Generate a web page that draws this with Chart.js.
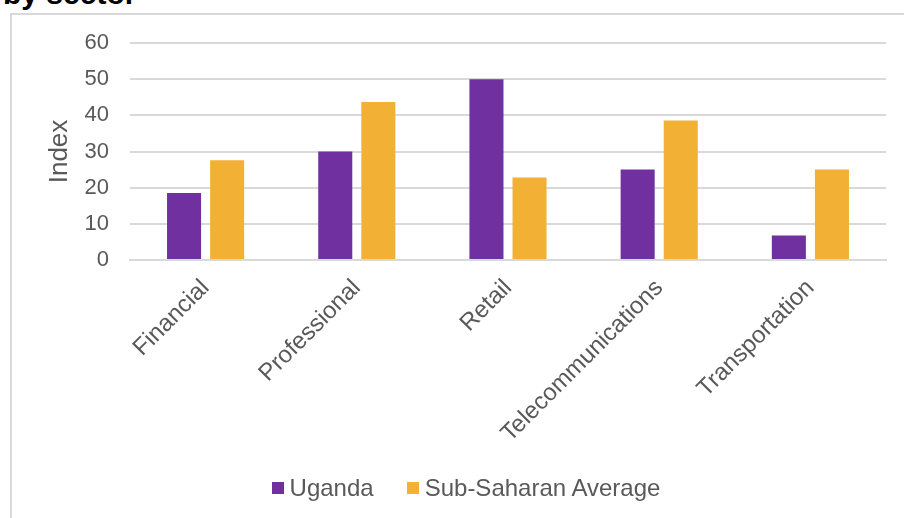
<!DOCTYPE html>
<html>
<head>
<meta charset="utf-8">
<script src="https://cdn.jsdelivr.net/npm/chart.js@4"></script>
<style>
  html,body{margin:0;padding:0;background:#fff;}
  body{width:904px;height:518px;overflow:hidden;position:relative;font-family:"Liberation Sans",Arial,sans-serif;}
  .title{position:absolute;left:3px;top:-23px;font-size:30px;line-height:34px;font-weight:bold;color:#000;white-space:nowrap;}
  .frame{position:absolute;left:10px;top:13px;width:920px;height:540px;border-left:2px solid #d9d9d9;border-top:2px solid #d9d9d9;}
  #wrap{position:absolute;left:0;top:0;width:904px;height:518px;}
  #legend{position:absolute;left:28px;right:0;top:474px;display:flex;justify-content:center;gap:33px;
          font-size:24px;line-height:28px;color:#595959;}
  #legend span.item{display:flex;align-items:center;}
  #legend i{display:inline-block;width:12px;height:12px;margin-right:6px;}
</style>
</head>
<body>
<div class="title">by sector</div>
<div class="frame"></div>
<div id="wrap"><canvas id="chart"></canvas></div>
<div id="legend"></div>
<script>
const sectors   = ['Financial','Professional','Retail','Telecommunications','Transportation'];
const uganda    = [18.5, 30, 50, 25, 6.8];
const subSahara = [27.6, 43.7, 22.8, 38.6, 25];
const yTicks    = [0,10,20,30,40,50,60];

const TXT = '#595959';
const FONT = '"Liberation Sans", Arial, sans-serif';

const chart = new Chart(document.getElementById('chart'), {
  type: 'bar',
  data: {
    labels: sectors,
    datasets: [
      { label: 'Uganda', data: uganda, backgroundColor: '#7030A0', categoryPercentage: 0.57, barPercentage: 0.79 },
      { label: 'Sub-Saharan Average', data: subSahara, backgroundColor: '#F2B134', categoryPercentage: 0.57, barPercentage: 0.79 }
    ]
  },
  options: {
    responsive: true,
    maintainAspectRatio: false,
    animation: false,
    layout: { padding: { top: 43, right: 18, left: 44, bottom: 8 } },
    plugins: {
      tooltip: { enabled: false },
      legend: { display: false }
    },
    scales: {
      x: {
        grid: { display: false },
        border: { color: '#d9d9d9', width: 2 },
        ticks: { color: TXT, font: { family: FONT, size: 24 }, maxRotation: 45, minRotation: 45, padding: 6 },
        afterFit: s => { s.height = 250; }
      },
      y: {
        min: 0, max: 60,
        afterBuildTicks: s => { s.ticks = yTicks.map(v => ({ value: v })); },
        grid: { color: '#d9d9d9', lineWidth: 2, drawTicks: false },
        border: { display: false },
        ticks: { color: TXT, font: { family: FONT, size: 22 }, padding: 21 },
        title: { display: true, text: 'Index', color: TXT, font: { family: FONT, size: 26 }, padding: 0 },
        afterFit: s => { s.width = 86; }
      }
    }
  }
});

// legend in html so the box/text spacing can follow the picture
const lg = document.getElementById('legend');
chart.data.datasets.forEach(ds => {
  const it = document.createElement('span');
  it.className = 'item';
  it.innerHTML = `<i style="background:${ds.backgroundColor}"></i>${ds.label}`;
  lg.appendChild(it);
});
</script>
</body>
</html>
